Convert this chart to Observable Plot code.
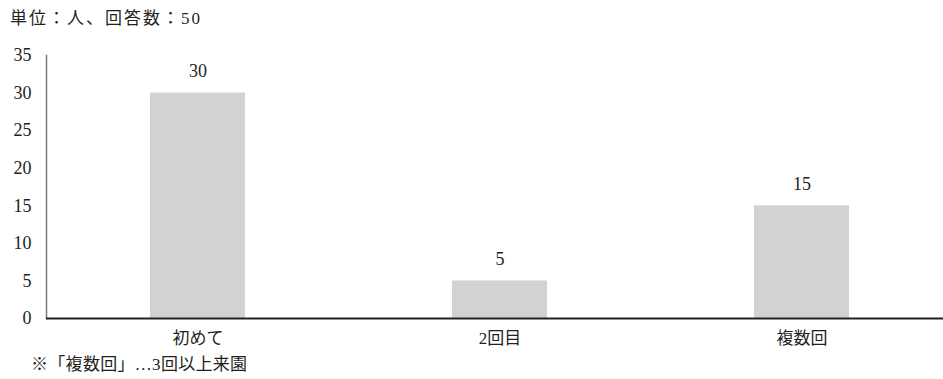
<!DOCTYPE html>
<html lang="ja">
<head>
<meta charset="utf-8">
<script src="https://cdn.jsdelivr.net/npm/d3@7"></script>
<script src="https://cdn.jsdelivr.net/npm/@observablehq/plot@0.6"></script>
<style>
  html, body { margin: 0; padding: 0; background: #fff; }
  #wrap { position: relative; width: 943px; height: 379px; overflow: hidden;
    font-family: "Liberation Serif", "Noto Sans CJK JP", serif; color: #231f20; }
  #title { position: absolute; left: 10px; top: 8px; font-size: 17px; line-height: 22px; letter-spacing: 2px; white-space: nowrap; }
  #note { position: absolute; left: 31px; top: 354px; font-size: 17px; line-height: 22px; letter-spacing: 0.3px; white-space: nowrap; }
  #chart { position: absolute; left: 0; top: 0; }
  #chart svg, #chart svg text { font-family: "Liberation Serif", "Noto Sans CJK JP", serif !important; }
</style>
</head>
<body>
<div id="wrap">
  <div id="chart"></div>
  <div id="title"></div>
  <div id="note"></div>
</div>
<script>
const titleText = "単位：人、回答数：50";
const noteText = "※「複数回」…3回以上来園";
const categories = ["初めて", "2回目", "複数回"];
const values = [30, 5, 15];
const yTicks = [0, 5, 10, 15, 20, 25, 30, 35];

const data = categories.map((c, i) => ({category: c, value: values[i]}));
const font = '"Liberation Serif", "Noto Sans CJK JP", serif';

document.getElementById("title").textContent = titleText;
document.getElementById("note").textContent = noteText;

const chart = Plot.plot({
  width: 943,
  height: 358,
  marginTop: 55,
  marginBottom: 40,
  marginLeft: 46,
  marginRight: 0,
  style: {fontFamily: font, fontSize: "17px", color: "#231f20", background: "transparent", overflow: "visible"},
  x: {domain: categories, range: [46, 953], paddingInner: 0.686, paddingOuter: 0.343, label: null},
  y: {domain: [0, 35], label: null},
  marks: [
    Plot.barY(data, {x: "category", y: "value", fill: "#d1d2d4"}),
    Plot.text(data, {x: "category", y: "value", text: d => String(d.value), dy: -22, fontSize: 18, fill: "#231f20"}),
    Plot.axisX({tickSize: 0, tickPadding: 13, fontSize: 17, label: null}),
    Plot.axisY({ticks: yTicks, tickSize: 0, tickPadding: 15, fontSize: 18, label: null}),
    Plot.frame({anchor: "left", stroke: "#777", strokeWidth: 1.5}),
    Plot.ruleY([0], {stroke: "#222", strokeWidth: 2})
  ]
});
document.getElementById("chart").appendChild(chart);
</script>
</body>
</html>
